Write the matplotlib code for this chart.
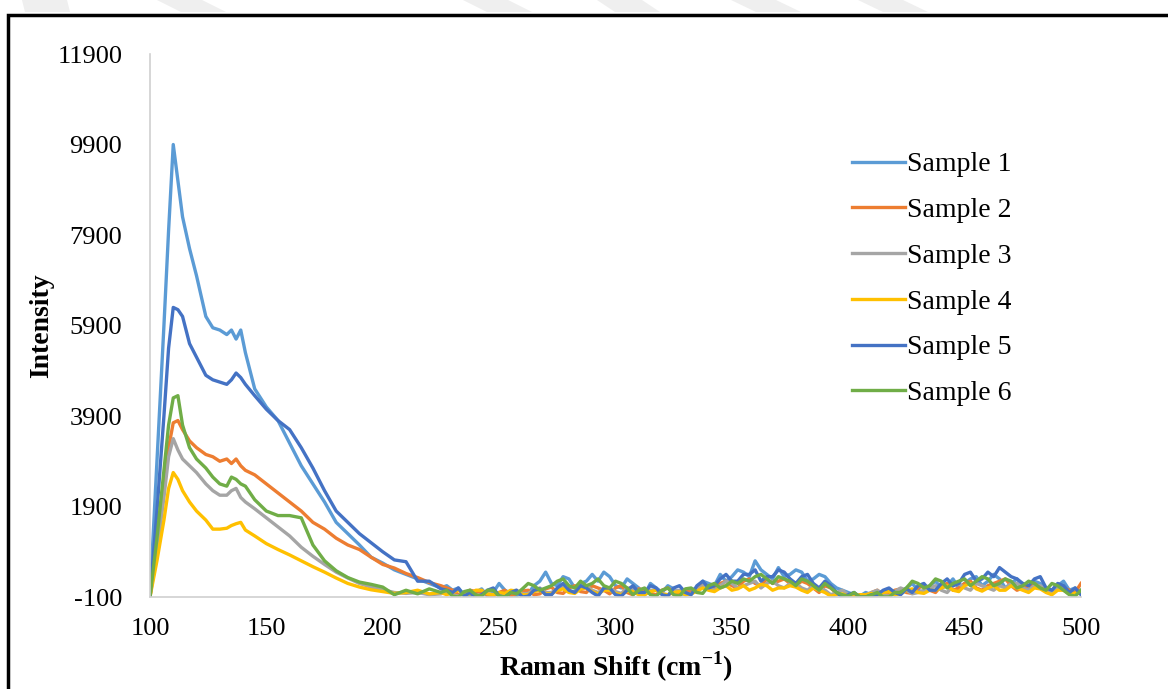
import matplotlib
matplotlib.use("Agg")
import matplotlib.pyplot as plt
from matplotlib.patches import Rectangle, Polygon

# ========== 数据 ==========
# 峰区 100-225 较稀，尾部 227.5-500 每 2.5 cm-1 一个点
raman_shift = [100, 103, 106, 108, 110, 112, 114, 117, 120, 124, 127, 130, 133, 135, 137, 139, 141,
               145, 150, 155, 160, 165, 170, 175, 180, 185, 190, 195, 200, 205, 210, 215, 220, 225,
               227.5, 230, 232.5, 235, 237.5, 240, 242.5, 245, 247.5, 250,
               252.5, 255, 257.5, 260, 262.5, 265, 267.5, 270, 272.5, 275,
               277.5, 280, 282.5, 285, 287.5, 290, 292.5, 295, 297.5, 300,
               302.5, 305, 307.5, 310, 312.5, 315, 317.5, 320, 322.5, 325,
               327.5, 330, 332.5, 335, 337.5, 340, 342.5, 345, 347.5, 350,
               352.5, 355, 357.5, 360, 362.5, 365, 367.5, 370, 372.5, 375,
               377.5, 380, 382.5, 385, 387.5, 390, 392.5, 395, 397.5, 400,
               402.5, 405, 407.5, 410, 412.5, 415, 417.5, 420, 422.5, 425,
               427.5, 430, 432.5, 435, 437.5, 440, 442.5, 445, 447.5, 450,
               452.5, 455, 457.5, 460, 462.5, 465, 467.5, 470, 472.5, 475,
               477.5, 480, 482.5, 485, 487.5, 490, 492.5, 495, 497.5, 500]

sample1 = [-100, 2900, 5900, 8000, 9900, 9100, 8300, 7600, 7000, 6100, 5850, 5800, 5700, 5800, 5600, 5800, 5300,
           4500, 4100, 3800, 3300, 2800, 2400, 2000, 1550, 1300, 1050, 780, 650, 500, 400, 300, 200, 100,
           150, 50, 100, -50, -80, 0, 80, -80, 0, 200,
           50, -20, -80, 50, -20, 150, 250, 450, 200, 150,
           350, 300, 100, 200, 250, 400, 250, 450, 350, 150,
           100, 300, 200, 100, -50, 200, 100, 0, 150, 80,
           -50, -20, 50, 100, 250, 200, 150, 400, 250, 350,
           500, 450, 350, 700, 500, 400, 300, 550, 350, 400,
           500, 450, 250, 300, 400, 350, 200, 100, 50, 0,
           -50, -80, 0, -50, -100, 0, 50, -50, 20, 100,
           200, 50, 0, 150, 250, 100, 150, 300, 100, 200,
           300, 350, 150, 250, 400, 300, 100, 200, 300, 150,
           50, 250, 200, 100, 50, 150, 250, 50, 100, 0]

sample2 = [-100, 1000, 2300, 3200, 3750, 3800, 3600, 3350, 3200, 3050, 3000, 2900, 2950, 2850, 2950, 2800, 2700,
           2600, 2400, 2200, 2000, 1800, 1550, 1400, 1200, 1050, 950, 780, 620, 540, 420, 330, 220, 150,
           100, 50, -50, -20, 50, 20, 0, -50, -80, 0,
           50, -80, -20, 30, 50, -50, -30, 80, 120, 0,
           -20, 100, 150, 20, 0, 150, 100, 50, -30, 100,
           150, 0, -50, 80, 50, -20, -50, 50, 100, 0,
           -20, 50, 0, 100, 150, 80, 100, 200, 250, 150,
           100, 250, 300, 200, 150, 300, 200, 250, 300, 200,
           150, 250, 200, 100, 0, 150, 100, -20, -50, -80,
           -100, -50, -80, 0, 50, -50, -50, 50, 80, 0,
           -20, 100, 150, 50, 0, 150, 200, 50, 100, 200,
           250, 100, 50, 150, 200, 250, 300, 150, 50, 100,
           150, 200, 100, 50, 0, 150, 100, 50, 0, 200]

sample3 = [-100, 900, 2100, 3000, 3400, 3150, 2950, 2800, 2650, 2400, 2250, 2150, 2150, 2250, 2300, 2100, 2000,
           1850, 1650, 1450, 1250, 1000, 800, 620, 450, 320, 200, 120, 60, 0, -20, 0, -50, -30,
           20, -50, -80, 0, 50, -80, -50, 20, 50, -50,
           -50, 30, 50, -30, -20, 50, 100, 0, 0, 80,
           120, 30, 20, 100, 150, 50, 0, 80, 100, 20,
           -20, 100, 80, 0, -50, 50, 50, -30, -50, 30,
           50, -50, -30, 50, 150, 100, 50, 150, 250, 200,
           100, 150, 200, 250, 100, 200, 250, 150, 100, 200,
           200, 100, 50, 150, 100, 50, -50, 0, 50, -50,
           -100, -80, -50, 0, 50, -50, -80, 20, 100, 50,
           -30, 0, 50, 100, 150, 50, 0, 150, 200, 100,
           50, 200, 150, 100, 50, 150, 100, 200, 200, 100,
           50, 150, 150, 50, 0, 100, 100, 0, -30, 50]

sample4 = [-100, 700, 1600, 2300, 2650, 2500, 2250, 2000, 1800, 1600, 1400, 1400, 1420, 1480, 1520, 1550, 1380,
           1250, 1080, 950, 830, 700, 570, 450, 320, 200, 120, 60, 20, -20, 0, 50, -30, 0,
           -50, 0, 50, -50, -30, 50, 50, -30, -50, 0,
           -20, 50, 30, -50, -50, 20, 50, -30, -30, 50,
           80, 0, -20, 80, 100, 20, -30, 50, 50, -20,
           -50, 30, 20, -50, -50, 20, 50, -30, -50, 0,
           20, -50, -30, 30, 100, 50, 20, 100, 150, 50,
           80, 150, 50, 100, 180, 150, 50, 100, 100, 150,
           120, 50, 0, 100, 50, 0, -80, -50, -30, -80,
           -100, -50, -50, -20, -80, 0, 20, -50, -30, 50,
           80, 0, -20, 50, 50, 100, 150, 50, 20, 150,
           200, 80, 30, 100, 150, 50, 50, 150, 100, 50,
           0, 100, 80, 0, -50, 50, 50, -30, -20, 30]

sample5 = [-100, 1800, 3900, 5400, 6300, 6250, 6100, 5500, 5200, 4800, 4700, 4650, 4600, 4700, 4850, 4750, 4600,
           4350, 4050, 3800, 3600, 3200, 2750, 2250, 1800, 1550, 1300, 1100, 900, 720, 680, 250, 250, 80,
           50, 0, 100, -80, 0, -100, -50, 50, 100, -80,
           -100, 0, 50, -100, -80, 50, 80, -50, -50, 100,
           200, 50, 0, 150, 100, 0, -80, 100, 100, -50,
           -80, 50, 150, 0, 0, 150, 100, -50, -80, 100,
           150, 0, -50, 150, 250, 100, 150, 300, 400, 250,
           250, 400, 400, 500, 250, 350, 350, 500, 450, 300,
           200, 350, 400, 200, 100, 250, 150, 0, -100, -50,
           0, -100, -100, -50, -50, 50, 100, 0, -50, 80,
           0, 150, 200, 50, 50, 200, 300, 150, 200, 400,
           450, 250, 300, 450, 350, 550, 450, 350, 300, 200,
           150, 300, 350, 100, 50, 200, 150, 0, 100, -50]

sample6 = [-100, 1200, 2700, 3700, 4300, 4350, 3700, 3200, 2950, 2750, 2550, 2400, 2350, 2550, 2500, 2400, 2350,
           2050, 1800, 1700, 1700, 1650, 1050, 700, 480, 330, 230, 180, 120, -50, 50, -30, 80, 0,
           50, -80, -100, 20, 50, -50, -80, 50, 50, -80,
           -100, 0, -30, 80, 200, 150, 50, 100, 150, 250,
           300, 150, 100, 250, 150, 200, 300, 150, 100, 250,
           200, 100, -50, 50, 100, -50, -80, 50, 100, -50,
           -80, 80, 100, 0, -20, 150, 200, 100, 150, 250,
           200, 300, 250, 350, 400, 300, 200, 350, 300, 250,
           150, 300, 250, 150, 50, 200, 100, 0, -50, -80,
           0, -100, -100, -50, 0, -100, -100, 0, 0, 100,
           250, 200, 100, 150, 300, 250, 100, 200, 250, 300,
           150, 250, 350, 300, 150, 200, 300, 250, 100, 150,
           250, 200, 100, 50, 200, 150, 50, -50, -80, 50]

series = [sample1, sample2, sample3, sample4, sample5, sample6]
labels = ["Sample 1", "Sample 2", "Sample 3", "Sample 4", "Sample 5", "Sample 6"]
colors = ["#5B9BD5", "#ED7D31", "#A5A5A5", "#FFC000", "#4472C4", "#70AD47"]
y_ticks = [-100, 1900, 3900, 5900, 7900, 9900, 11900]
x_ticks = [100, 150, 200, 250, 300, 350, 400, 450, 500]

# ========== 画图 ==========
plt.rcParams["font.family"] = ["Liberation Serif", "DejaVu Serif"]
plt.rcParams["mathtext.fontset"] = "custom"
plt.rcParams["mathtext.rm"] = "Liberation Serif"
plt.rcParams["mathtext.bf"] = "Liberation Serif:bold"
plt.rcParams["axes.unicode_minus"] = False

fig = plt.figure(figsize=(11.68, 6.89), dpi=100)
ax = fig.add_axes([0.1284, 0.1335, 0.7971, 0.7881])

for vals, lab, col in zip(series, labels, colors):
    ax.plot(raman_shift, vals, color=col, linewidth=2.4, label=lab)

ax.set_xlim(100, 500)
ax.set_ylim(-100, 11900)
ax.set_xticks(x_ticks)
ax.set_yticks(y_ticks)
ax.tick_params(axis="both", length=0, labelsize=19)
ax.tick_params(axis="y", pad=20)
ax.tick_params(axis="x", pad=15)

for side in ["top", "right"]:
    ax.spines[side].set_visible(False)
for side in ["left", "bottom"]:
    ax.spines[side].set_color("#D0D0D0")
    ax.spines[side].set_linewidth(1.2)

ax.set_xlabel(r"Raman Shift (cm$^{\mathbf{-1}}$)", fontsize=20, fontweight="bold", labelpad=7)
ax.set_ylabel("Intensity", fontsize=20, fontweight="bold", labelpad=2)

ax.legend(loc="upper left", bbox_to_anchor=(852 / 1168, 1 - 152 / 689),
          bbox_transform=fig.transFigure, frameon=False, fontsize=20,
          handlelength=1.9, handletextpad=0.07, labelspacing=0.73,
          borderpad=0, borderaxespad=0)

# 外框
fig.patches.append(Rectangle((8 / 1168, -0.1), 1.2, 1 - 15 / 689 + 0.1, transform=fig.transFigure,
                             fill=False, edgecolor="black", linewidth=2.5, clip_on=False))

# 顶部淡灰水印条纹
for x0, x1 in [(22, 60), (157, 216), (463, 522), (597, 650), (731, 791), (858, 918)]:
    pts = [(x0 / 1168, 1.0), ((x0 + 45) / 1168, 1.0), ((x1 + 10) / 1168, 1 - 12 / 689), ((x1 - 35) / 1168, 1 - 12 / 689)]
    fig.patches.append(Polygon(pts, closed=True, transform=fig.transFigure,
                               facecolor="#EFEFEF", edgecolor="none"))

fig.savefig("out.png", dpi=100)
